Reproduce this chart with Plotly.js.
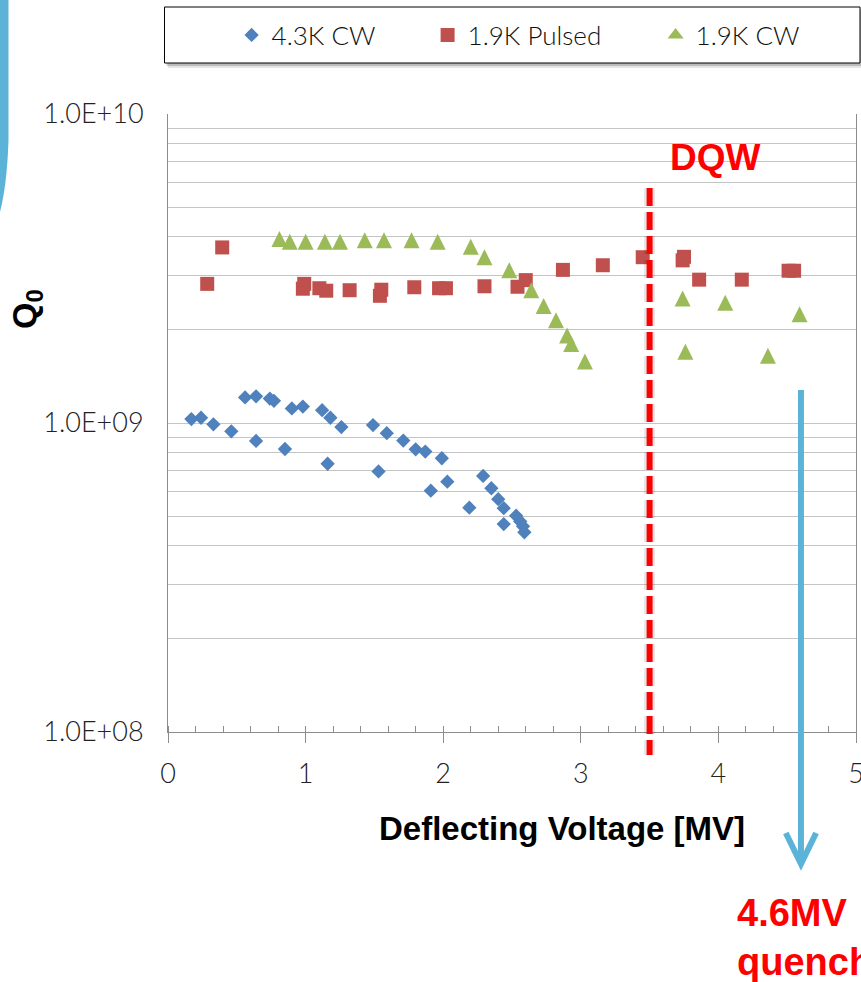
<!DOCTYPE html>
<html>
<head>
<meta charset="utf-8">
<script src="https://cdn.plot.ly/plotly-3.0.1.min.js"></script>
<style>
  html, body { margin: 0; padding: 0; background: #ffffff; }
  #chart { width: 861px; height: 982px; }
</style>
</head>
<body>
<div id="chart"></div>
<script>
// Series names
const seriesNames = ['4.3K CW', '1.9K Pulsed', '1.9K CW'];

// 4.3K CW measurements: deflecting voltage [MV] and Q0
const cw43Voltage = [0.17, 0.24, 0.33, 0.46, 0.56, 0.64, 0.64, 0.74, 0.77, 0.85, 0.90, 0.98,
                     1.12, 1.18, 1.16, 1.26, 1.49, 1.53, 1.59, 1.71, 1.80, 1.87, 1.91, 1.99,
                     2.03, 2.19, 2.29, 2.35, 2.40, 2.44, 2.44, 2.53, 2.56, 2.58, 2.59];
const cw43Q0 = [1.03e9, 1.04e9, 0.99e9, 0.94e9, 1.21e9, 1.22e9, 0.875e9, 1.20e9, 1.18e9, 0.824e9, 1.115e9, 1.13e9,
                1.10e9, 1.04e9, 0.738e9, 0.97e9, 0.985e9, 0.697e9, 0.927e9, 0.877e9, 0.822e9, 0.808e9, 0.604e9, 0.769e9,
                0.646e9, 0.532e9, 0.674e9, 0.615e9, 0.567e9, 0.530e9, 0.471e9, 0.501e9, 0.480e9, 0.463e9, 0.443e9];

// 1.9K pulsed measurements
const pulsed19Voltage = [0.285, 0.394, 0.98, 0.99, 1.10, 1.15, 1.32, 1.54, 1.55, 1.79, 1.97, 2.02,
                         2.30, 2.54, 2.60, 2.87, 3.16, 3.45, 3.74, 3.75, 3.86, 4.17, 4.51, 4.55];
const pulsed19Q0 = [2.82e9, 3.70e9, 2.72e9, 2.82e9, 2.73e9, 2.68e9, 2.69e9, 2.58e9, 2.70e9, 2.75e9, 2.73e9, 2.73e9,
                    2.77e9, 2.76e9, 2.90e9, 3.13e9, 3.24e9, 3.44e9, 3.36e9, 3.45e9, 2.91e9, 2.91e9, 3.11e9, 3.11e9];

// 1.9K CW measurements
const cw19Voltage = [0.81, 0.885, 1.00, 1.14, 1.25, 1.43, 1.57, 1.77, 1.96, 2.20, 2.30, 2.48,
                     2.64, 2.73, 2.82, 2.90, 2.93, 3.03, 3.74, 3.76, 4.05, 4.36, 4.59];
const cw19Q0 = [3.94e9, 3.86e9, 3.86e9, 3.86e9, 3.86e9, 3.90e9, 3.90e9, 3.90e9, 3.86e9, 3.72e9, 3.44e9, 3.12e9,
                2.69e9, 2.39e9, 2.15e9, 1.92e9, 1.80e9, 1.58e9, 2.53e9, 1.70e9, 2.45e9, 1.65e9, 2.25e9];

// Axis ticks
const xTickVals = [0, 1, 2, 3, 4, 5];
const xTickText = ['0', '1', '2', '3', '4', '5'];
const yTickVals = [1e8, 1e9, 1e10];
const yTickText = ['1.0E+08', '1.0E+09', '1.0E+10'];
const yMinorVals = [2e8, 3e8, 4e8, 5e8, 6e8, 7e8, 8e8, 9e8,
                    2e9, 3e9, 4e9, 5e9, 6e9, 7e9, 8e9, 9e9];

// Reference voltages marked on the chart [MV]
const dqwLimit = 3.5;
const quenchVoltage = 4.6;

// Page geometry and helpers: page pixel -> paper fraction
const W = 861, H = 982;
const M = { l: 168, r: 5, t: 114, b: 250 };
const plotW = W - M.l - M.r;
const plotH = H - M.t - M.b;
const px = x => (x - M.l) / plotW;
const py = y => (H - M.b - y) / plotH;

const THIN = 'Lato, "Open Sans", "DejaVu Sans Condensed", sans-serif';
const BOLD = '"Liberation Sans", Arial, sans-serif';
const ACCENT_BLUE = '#5BB4D8';
const GREEN = '#9BBB59';
const GRID = '#c4c4c4';
const AXIS = '#8c8c8c';

// Upright triangle that is as tall as it is wide: an arrow glyph turned
// to point up, pushed back by half its size so it sits centred on the point.
const TRI_SIZE = 16;

const traces = [
  {
    type: 'scatter', mode: 'markers', name: seriesNames[0],
    x: cw43Voltage, y: cw43Q0,
    marker: { symbol: 'diamond', size: 11, color: '#4F81BD', line: { width: 0 } },
    legendwidth: 151
  },
  {
    type: 'scatter', mode: 'markers', name: seriesNames[1],
    x: pulsed19Voltage, y: pulsed19Q0,
    marker: { symbol: 'square', size: 14, color: '#C0504D', line: { width: 0 } },
    legendwidth: 183
  },
  {
    type: 'scatter', mode: 'markers', name: seriesNames[2],
    x: cw19Voltage, y: cw19Q0,
    legendgroup: 'cw19', showlegend: false,
    marker: {
      symbol: 'arrow-down', angle: 180, standoff: TRI_SIZE / 2,
      size: TRI_SIZE, color: GREEN, line: { width: 0 }
    }
  },
  // legend entry for the 1.9K CW series (the legend ignores marker standoff)
  {
    type: 'scatter', mode: 'markers', name: seriesNames[2],
    x: [null], y: [null],
    legendgroup: 'cw19', showlegend: true,
    marker: { symbol: 'triangle-up', size: 14, color: GREEN, line: { width: 0 } },
    legendwidth: 140
  }
];

const q = quenchVoltage;
const shapes = [
  // slide accent strip at the upper left edge
  {
    type: 'path', xref: 'paper', yref: 'paper', layer: 'above',
    path: `M ${px(0)},${py(0)} L ${px(8.5)},${py(0)} L ${px(8.5)},${py(140)} Q ${px(7)},${py(185)} ${px(0)},${py(212)} Z`,
    fillcolor: ACCENT_BLUE, line: { width: 0 }
  },
  // legend frame: soft shadow then white box
  {
    type: 'rect', xref: 'paper', yref: 'paper', layer: 'above',
    x0: px(168), x1: px(864), y0: py(11), y1: py(68),
    fillcolor: 'rgba(0,0,0,0.10)', line: { width: 0 }
  },
  {
    type: 'rect', xref: 'paper', yref: 'paper', layer: 'above',
    x0: px(166.5), x1: px(862), y0: py(9), y1: py(66),
    fillcolor: 'rgba(0,0,0,0.18)', line: { width: 0 }
  },
  {
    type: 'rect', xref: 'paper', yref: 'paper', layer: 'above',
    x0: px(164.5), x1: px(860), y0: py(7), y1: py(63),
    fillcolor: '#ffffff', line: { color: '#000000', width: 1 }
  },
  // DQW limit: dashed red line with a faint shadow
  {
    type: 'line', xref: 'x', yref: 'paper', layer: 'above',
    x0: dqwLimit, x1: dqwLimit, y0: py(188), y1: py(755),
    line: { color: 'rgba(0,0,0,0.10)', width: 11, dash: '18px,6px' }
  },
  {
    type: 'line', xref: 'x', yref: 'paper', layer: 'above',
    x0: dqwLimit, x1: dqwLimit, y0: py(188), y1: py(755),
    line: { color: '#FF0000', width: 6, dash: '18px,6px' }
  },
  // quench arrow
  {
    type: 'line', xref: 'x', yref: 'paper', layer: 'above',
    x0: q, x1: q, y0: py(390), y1: py(864),
    line: { color: ACCENT_BLUE, width: 6 }
  },
  {
    type: 'path', xref: 'x', yref: 'paper', layer: 'above',
    path: `M ${q - 0.11},${py(833)} L ${q},${py(864)} L ${q + 0.11},${py(833)}`,
    line: { color: ACCENT_BLUE, width: 6 }
  }
];

const annotations = [
  {
    xref: 'paper', yref: 'paper', x: px(561.5), y: py(828),
    text: '<b>Deflecting Voltage [MV]</b>', showarrow: false,
    xanchor: 'center', yanchor: 'middle',
    font: { family: BOLD, size: 33, color: '#000000' }
  },
  {
    xref: 'paper', yref: 'paper', x: px(26), y: py(309),
    text: '<b>Q<sub>0</sub></b>', showarrow: false, textangle: -90,
    xanchor: 'center', yanchor: 'middle',
    font: { family: BOLD, size: 34, color: '#000000' }
  },
  {
    xref: 'paper', yref: 'paper', x: px(715), y: py(157),
    text: '<b>DQW</b>', showarrow: false,
    xanchor: 'center', yanchor: 'middle',
    font: { family: BOLD, size: 37, color: '#FF0000' }
  },
  {
    xref: 'paper', yref: 'paper', x: px(735), y: py(937),
    text: '<b>4.6MV<br>quench</b>', showarrow: false, align: 'left',
    xanchor: 'left', yanchor: 'middle',
    font: { family: BOLD, size: 38, color: '#FF0000' }
  }
];

const layout = {
  width: W, height: H,
  margin: M,
  paper_bgcolor: '#ffffff',
  plot_bgcolor: '#ffffff',
  showlegend: true,
  legend: {
    orientation: 'h',
    x: px(231.6), xanchor: 'left',
    y: py(35), yanchor: 'middle',
    bgcolor: 'rgba(0,0,0,0)', borderwidth: 0,
    font: { family: THIN, size: 26, color: '#111111', weight: 300 },
    itemwidth: 30
  },
  xaxis: {
    range: [0, 5],
    tickmode: 'array', tickvals: xTickVals, ticktext: xTickText,
    showgrid: false, zeroline: false,
    showline: true, linecolor: AXIS, linewidth: 1,
    ticks: 'outside', ticklen: 10, tickcolor: AXIS, tickwidth: 1,
    minor: { ticks: 'inside', ticklen: 6, dtick: 0.2, tick0: 0, tickcolor: AXIS, showgrid: false },
    ticklabelstandoff: 8,
    ticklabeloverflow: 'allow',
    tickfont: { family: THIN, size: 27, color: '#222222', weight: 300 }
  },
  yaxis: {
    type: 'log', range: [8, 10],
    tickmode: 'array', tickvals: yTickVals, ticktext: yTickText,
    showgrid: true, gridcolor: GRID, gridwidth: 1,
    minor: { tickmode: 'array', tickvals: yMinorVals, showgrid: true, gridcolor: GRID, gridwidth: 1, ticks: '' },
    zeroline: false,
    showline: true, mirror: true, linecolor: AXIS, linewidth: 1,
    ticks: '',
    ticklabelstandoff: 18,
    tickfont: { family: THIN, size: 27, color: '#222222', weight: 300 }
  },
  shapes: shapes,
  annotations: annotations
};

Plotly.newPlot('chart', traces, layout, { displayModeBar: false, responsive: false });
</script>
</body>
</html>
